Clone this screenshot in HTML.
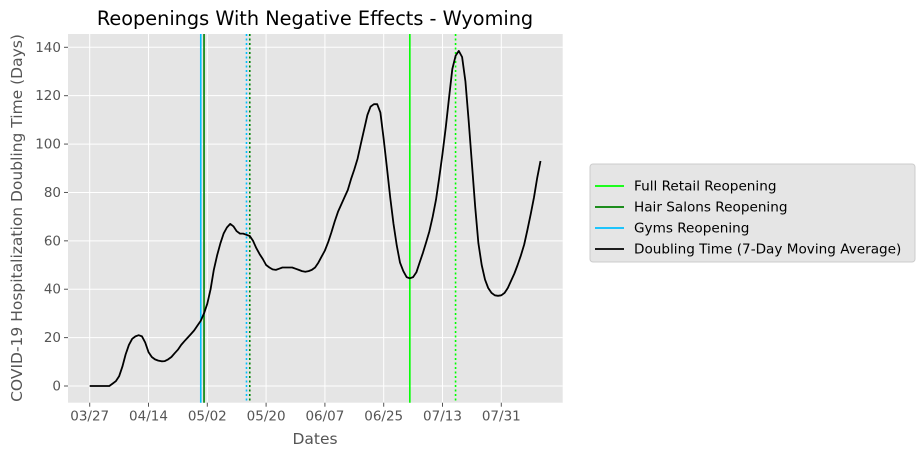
<!DOCTYPE html>
<html><head><meta charset="utf-8"><style>
body{margin:0;background:#fff;}
svg{display:block;font-family:"DejaVu Sans","Liberation Sans",sans-serif;}
</style></head><body>
<svg id="chart" width="923" height="457"></svg>
<script>
const days = [];
const doubling = [0,0,0,0,0,0,0,1,2,4,8,13,17,19.5,20.5,21,20.5,18,14,12,11,10.5,10.2,10.3,11,12,13.5,15,17,18.5,20,21.5,23,25,27,30,34,40,48,54,59,63,65.5,67,66,64,63,63,62.5,62,60,57,54.5,52.5,50,49,48.2,48,48.5,49,49,49,49,48.5,48,47.5,47.2,47.5,48,49,51,53.5,56,59.5,63.5,68,72,75,78,81,85.5,89.5,94,100,106,112,115.5,116.5,116.5,113,102,90,78,67,58,51,47.5,45,44.5,45,47,51,55,59.5,64,70,77,86,96,107,119,131,136.5,138.5,136,126,110,92,74,59,50,44,40.5,38.5,37.5,37.3,37.5,38.5,40.5,43.5,46.5,50,54,58.5,64.5,71,78,86,93];
for (let i = 0; i < doubling.length; i++) days.push(i);
const xTickLabels = ["03/27","04/14","05/02","05/20","06/07","06/25","07/13","07/31"];
const xTickDays = [0,18,36,54,72,90,108,126];
const yTicks = [0,20,40,60,80,100,120,140];
const eventNames = ["gyms-reopening-line","hair-salons-reopening-line","gyms-dotted-line","hair-salons-dotted-line","full-retail-reopening-line","full-retail-dotted-line"];
const eventDays = [34,35,48,49,98,112];
const eventColors = ["#00bfff","#008000","#00bfff","#008000","#00ff00","#00ff00"];
const eventDashed = [false,false,true,true,false,true];

const L=68,R=562.7,T=34,B=402.7;
const xs = d => 89.7 + d*(411.6/126);
const ys = v => 386 - v*(338.7/140);
const NS="http://www.w3.org/2000/svg";
const svg=document.getElementById('chart');
function mk(tag, attrs, parent){const e=document.createElementNS(NS,tag);for(const k in attrs)e.setAttribute(k,attrs[k]);(parent||svg).appendChild(e);return e;}

const bg=mk('rect',{x:L,y:T,width:R-L,height:B-T,fill:'#e5e5e5'});



xTickDays.forEach((d,i)=>{
  const x=xs(d);
  const g=mk('line',{x1:x,x2:x,y1:T,y2:B,stroke:'#fff','stroke-width':1});
  
  
  const t=mk('line',{x1:x,x2:x,y1:B,y2:B+4,stroke:'#555'});
  
  
  const tx=mk('text',{x:x,y:B+18,'text-anchor':'middle','font-size':13.5,fill:'#555'});
  tx.textContent=xTickLabels[i];
  
  
});
yTicks.forEach(v=>{
  const y=ys(v);
  const g=mk('line',{x1:L,x2:R,y1:y,y2:y,stroke:'#fff','stroke-width':1});
  
  
  const t=mk('line',{x1:L-4,x2:L,y1:y,y2:y,stroke:'#555'});
  
  
  const tx=mk('text',{x:L-7,y:y+4.5,'text-anchor':'end','font-size':13.5,fill:'#555'});
  tx.textContent=v;
  
  
});

eventDays.forEach((d,i)=>{
  const x=xs(d);
  const a={x1:x,x2:x,y1:T,y2:B,stroke:eventColors[i],'stroke-width':1.6};
  if(eventDashed[i]) a['stroke-dasharray']='2,2.5';
  const l=mk('line',a);
  
  
});

const pts=days.map((d,i)=>xs(d).toFixed(1)+','+ys(doubling[i]).toFixed(1)).join(' ');
const pl=mk('polyline',{points:pts,fill:'none',stroke:'#000','stroke-width':1.8,'stroke-linejoin':'round'});



const title=mk('text',{x:315,y:25,'text-anchor':'middle','font-size':19.3,fill:'#000'});
title.textContent='Reopenings With Negative Effects - Wyoming';


const xl=mk('text',{x:315,y:444,'text-anchor':'middle','font-size':15.5,fill:'#555'});
xl.textContent='Dates';


const yl=mk('text',{x:0,y:0,'text-anchor':'middle','font-size':15.5,fill:'#555',transform:'translate(22,218) rotate(-90)'});
yl.textContent='COVID-19 Hospitalization Doubling Time (Days)';



const lg=mk('g',{});


mk('rect',{x:590,y:164,width:325,height:98,fill:'#e5e5e5',stroke:'#ccc','stroke-width':1,rx:3},lg);
const legNames=["Full Retail Reopening","Hair Salons Reopening","Gyms Reopening","Doubling Time (7-Day Moving Average)"];
const legColors=["#00ff00","#008000","#00bfff","#000"];
legNames.forEach((n,i)=>{
  const y=186+i*21;
  const e=mk('g',{},lg);
  
  
  mk('line',{x1:595,x2:624,y1:y,y2:y,stroke:legColors[i],'stroke-width':1.8},e);
  const t=mk('text',{x:634,y:y+4.5,'font-size':13.6,fill:'#000'},e);
  t.textContent=n;
});
</script>
</body></html>
